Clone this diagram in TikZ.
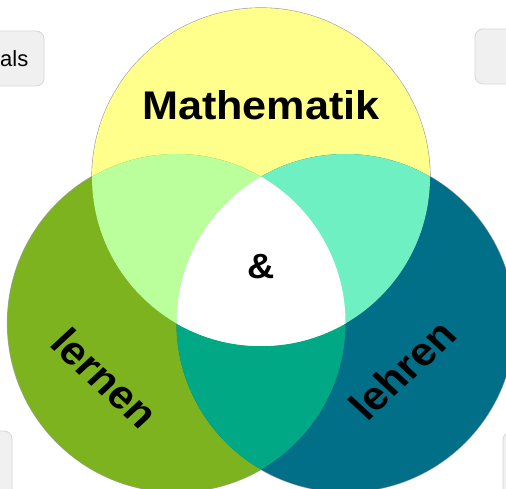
\documentclass[tikz,border=0pt]{standalone}
\usepackage{fontspec}
\setmainfont{Liberation Sans}
\definecolor{cY}{HTML}{FFFF8C}
\definecolor{cG}{HTML}{7DB31F}
\definecolor{cT}{HTML}{006F87}
\definecolor{cTL}{HTML}{BAFF9C}
\definecolor{cTR}{HTML}{6FF0C2}
\definecolor{cLR}{HTML}{00A886}
\definecolor{btnfill}{HTML}{F0F0F0}
\definecolor{btnline}{HTML}{D6D6D6}
\definecolor{rim}{HTML}{A0A0A0}
\begin{document}
\begin{tikzpicture}[x=1pt,y=-1pt,
  btn/.style={fill=btnfill,draw=btnline,line width=0.8pt,rounded corners=8pt},
  rimline/.style={draw=rim,line width=1.2pt},
  biglbl/.style={font=\bfseries\fontsize{40}{48}\selectfont,inner sep=0pt,xscale=1.08},
  btnlbl/.style={font=\fontsize{22}{26}\selectfont,inner sep=0pt}]
\useasboundingbox (0,0) rectangle (506,489);
\clip (0,0) rectangle (506,489);
% buttons
\path[btn] (-20,31) rectangle (44,86);
\node[btnlbl,anchor=base east] (als) at (28.5,66.5) {als};
\path[btn] (475,29) rectangle (530,84);
\path[btn] (-20,431) rectangle (12,500);
\path[btn] (503,432) rectangle (530,500);
% circles
\coordinate (T) at (261,177);
\coordinate (L) at (176.5,323);
\coordinate (R) at (345.5,323);
\draw[rimline] (T) circle[radius=169];
\draw[rimline] (L) circle[radius=169];
\draw[rimline] (R) circle[radius=169];
\fill[cY] (T) circle[radius=169];
\fill[cG] (L) circle[radius=169];
\fill[cT] (R) circle[radius=169];
\begin{scope}
  \clip (L) circle[radius=169];
  \fill[cLR] (R) circle[radius=169];
\end{scope}
\begin{scope}
  \clip (T) circle[radius=169];
  \fill[cTL] (L) circle[radius=169];
  \fill[cTR] (R) circle[radius=169];
  \clip (L) circle[radius=169];
  \fill[white] (R) circle[radius=169];
\end{scope}
% labels
\node[biglbl,anchor=base] (math) at (261,120) {Mathematik};
\node[biglbl,font=\bfseries\fontsize{35}{42}\selectfont,anchor=base] (amp) at (261.5,278) {\&};
\node[biglbl,rotate=-45] (lernen) at (105,378) {lernen};
\node[biglbl,rotate=45] (lehren) at (402,370) {lehren};
\end{tikzpicture}
\end{document}
